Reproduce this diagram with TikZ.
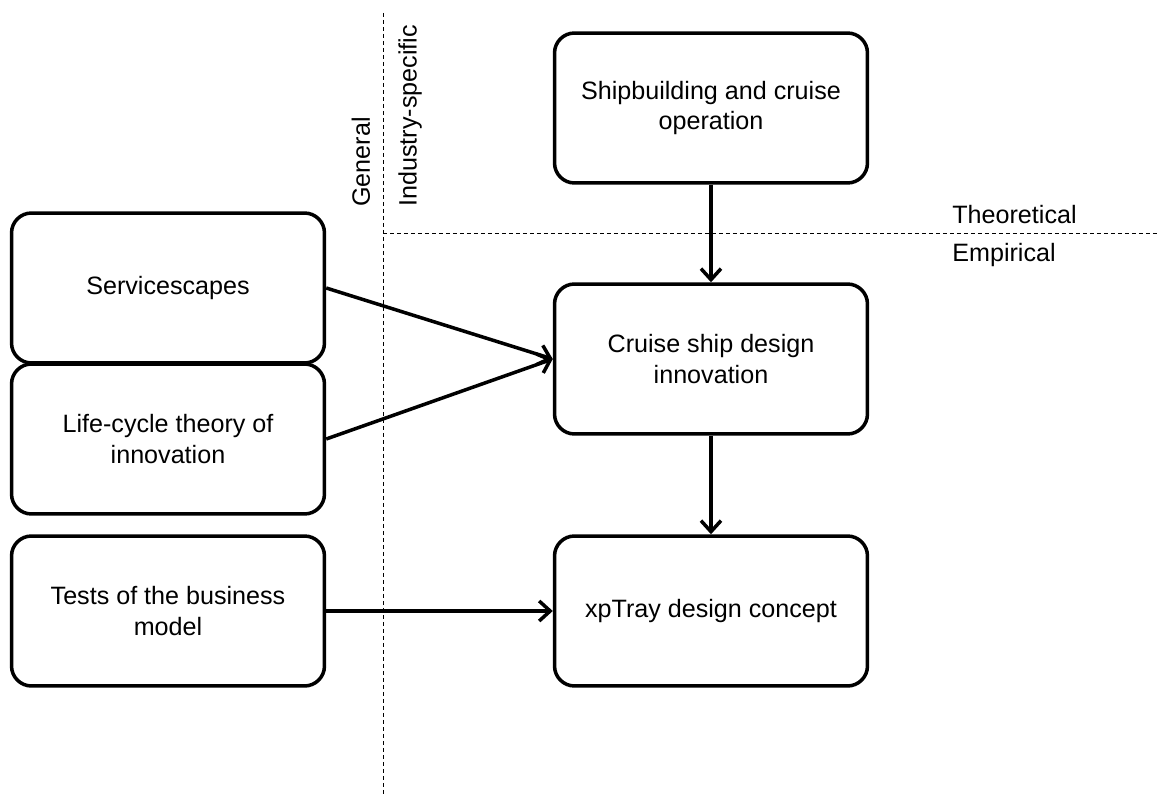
\documentclass[tikz,border=0pt]{standalone}
\usepackage{fontspec}
\setmainfont{Liberation Sans}
\usetikzlibrary{arrows.meta}

\begin{document}
\begin{tikzpicture}[%
      x=0.02cm, y=-0.02cm,
      box/.style={draw, line width=2pt, rounded corners=0.4cm,
        minimum width=6.26cm, minimum height=3.0cm, align=center,
        inner sep=0pt, font=\fontsize{14.3}{17.1}\selectfont},
      tag/.style={inner sep=0pt, font=\fontsize{14.3}{17.1}\selectfont},
      flow/.style={line width=2pt, -{Straight Barb[length=0.22cm, width=0.4cm]}},
      divider/.style={line width=0.5pt, dash pattern=on 0.08cm off 0.06cm},
      ]
      \useasboundingbox (0,0) rectangle (1157,794);

      % dividers
      \draw [divider] (383,13) -- (383,794);
      \draw [divider] (383,233) -- (1157,233);

      \node [tag, rotate=90, anchor=west] (general) at (361,207) {General};
      \node [tag, rotate=90, anchor=west] (industry) at (410,207) {Industry-specific};
      \node [tag, anchor=west] (theoretical) at (952,215) {Theoretical};
      \node [tag, anchor=west] (empirical) at (952,255) {Empirical};

      % boxes
      \node [box] (serv) at (168,288) {Servicescapes};
      \node [box] (life) at (168,439) {Life-cycle theory of\\innovation};
      \node [box] (tests) at (168,611) {Tests of the business\\model};
      \node [box] (ship) at (711,108) {Shipbuilding and cruise\\operation};
      \node [box] (cruise) at (711,359) {Cruise ship design\\innovation};
      \node [box] (xptray) at (711,611) {xpTray design concept};

      % arrows
      \draw [flow] (ship) -- (cruise);
      \draw [flow] (cruise) -- (xptray);
      \draw [flow] (serv.east) -- (cruise.west);
      \draw [flow] (life.east) -- (cruise.west);
      \draw [flow] (tests) -- (xptray);
      \end{tikzpicture}
\end{document}
